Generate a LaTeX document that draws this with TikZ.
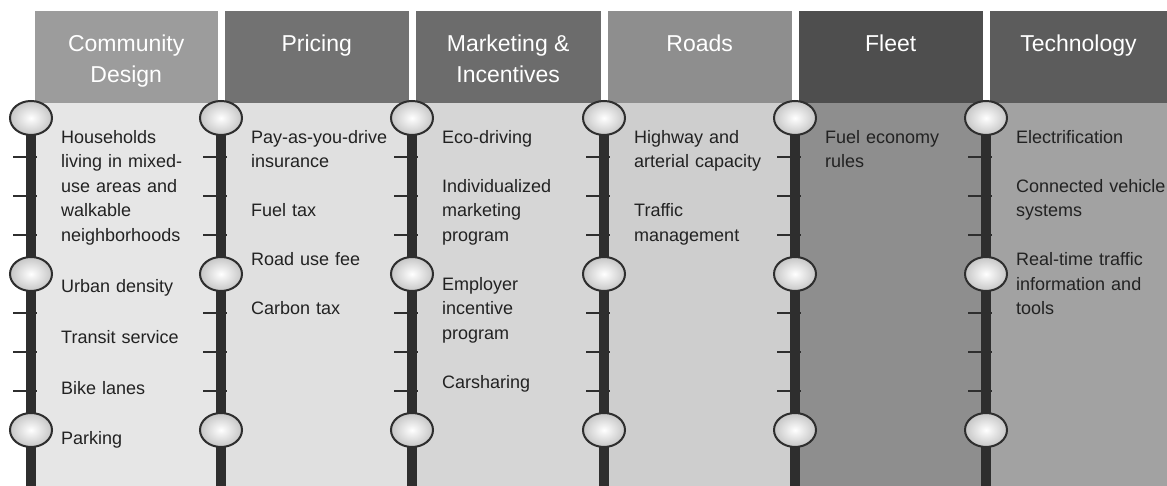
\documentclass[tikz,border=0pt]{standalone}
\usepackage{fontspec}
\setmainfont{Liberation Sans}
\usetikzlibrary{positioning, shapes.geometric}
\definecolor{tlBar}{HTML}{2E2E2E}
\definecolor{tlText}{HTML}{222222}
\definecolor{hdOne}{HTML}{9C9C9C}
\definecolor{hdTwo}{HTML}{727272}
\definecolor{hdThree}{HTML}{6C6C6C}
\definecolor{hdFour}{HTML}{8E8E8E}
\definecolor{hdFive}{HTML}{4E4E4E}
\definecolor{hdSix}{HTML}{5C5C5C}
\definecolor{bgOne}{HTML}{E6E6E6}
\definecolor{bgTwo}{HTML}{E0E0E0}
\definecolor{bgThree}{HTML}{D6D6D6}
\definecolor{bgFour}{HTML}{CECECE}
\definecolor{bgFive}{HTML}{8E8E8E}
\definecolor{bgSix}{HTML}{A2A2A2}

\begin{document}
\begin{tikzpicture}[x=1pt, y=1pt, node distance=24pt,
  hdr/.style={minimum height=92pt, inner sep=0pt, anchor=north west},
  hdrtext/.style={text=white, font=\fontsize{23}{31}\selectfont, align=center, inner sep=0pt},
  item/.style={text=tlText, font=\fontsize{18}{24.5}\selectfont, text width=150pt,
    align=left, inner sep=0pt, execute at begin node=\strut, execute at end node=\strut},
  knob/.style={ellipse, draw=tlBar, line width=2pt, minimum width=42pt,
    minimum height=34pt, inner color=white, outer color=gray!45},
  tick/.style={draw=tlBar, line width=2.5pt}]

\useasboundingbox (0,0) rectangle (1167,486);

\fill[bgOne] (31,0) rectangle (221,383);
\fill[bgTwo] (221,0) rectangle (412,383);
\fill[bgThree] (412,0) rectangle (604,383);
\fill[bgFour] (604,0) rectangle (795,383);
\fill[bgFive] (795,0) rectangle (986,383);
\fill[bgSix] (986,0) rectangle (1167,383);

\node[hdr, fill=hdOne, minimum width=183pt] (h1) at (34.5,475) {};
\node[hdr, fill=hdTwo, minimum width=184pt] (h2) at (224.5,475) {};
\node[hdr, fill=hdThree, minimum width=185pt] (h3) at (415.5,475) {};
\node[hdr, fill=hdFour, minimum width=184pt] (h4) at (607.5,475) {};
\node[hdr, fill=hdFive, minimum width=184pt] (h5) at (798.5,475) {};
\node[hdr, fill=hdSix, minimum width=177.5pt] (h6) at (989.5,475) {};

\node[hdrtext, below=24pt of h1.north] (h1t) {Community\\Design};
\node[hdrtext, below=24pt of h2.north] (h2t) {Pricing};
\node[hdrtext, below=24pt of h3.north] (h3t) {Marketing \&\\Incentives};
\node[hdrtext, below=24pt of h4.north] (h4t) {Roads};
\node[hdrtext, below=24pt of h5.north] (h5t) {Fleet};
\node[hdrtext, below=24pt of h6.north] (h6t) {Technology};

\foreach \bx [count=\i] in {31,221,412,604,795,986}{
  \coordinate (bt\i) at (\bx,383);
  \coordinate (bb\i) at (\bx,0);
  \draw[tlBar, line width=10pt] (bt\i) -- (bb\i);
  \foreach \ty in {329,290,251,173,134,95}
    \draw[tick] ({\bx-18},\ty) -- ({\bx+6},\ty);
  \node[knob] (k\i-1) at (\bx,368) {};
  \node[knob] (k\i-2) at (\bx,212) {};
  \node[knob] (k\i-3) at (\bx,56) {};
}

\node[item, anchor=north west] (cd1) at (61,360)
  {Households\\living in mixed-\\use areas and\\walkable\\neighborhoods};
\node[item, below=26pt of cd1] (cd2) {Urban density};
\node[item, below=26pt of cd2] (cd3) {Transit service};
\node[item, below=26pt of cd3] (cd4) {Bike lanes};
\node[item, below=26pt of cd4] (cd5) {Parking};

\node[item, anchor=north west] (pr1) at (251,360) {Pay-as-you-drive\\insurance};
\node[item, below=of pr1] (pr2) {Fuel tax};
\node[item, below=of pr2] (pr3) {Road use fee};
\node[item, below=of pr3] (pr4) {Carbon tax};

\node[item, anchor=north west] (mi1) at (442,360) {Eco-driving};
\node[item, below=of mi1] (mi2) {Individualized\\marketing\\program};
\node[item, below=of mi2] (mi3) {Employer\\incentive\\program};
\node[item, below=of mi3] (mi4) {Carsharing};

\node[item, anchor=north west] (rd1) at (634,360) {Highway and\\arterial capacity};
\node[item, below=of rd1] (rd2) {Traffic\\management};

\node[item, anchor=north west] (fl1) at (825,360) {Fuel economy\\rules};

\node[item, anchor=north west] (te1) at (1016,360) {Electrification};
\node[item, below=of te1] (te2) {Connected vehicle\\systems};
\node[item, below=of te2] (te3) {Real-time traffic\\information and\\tools};

\end{tikzpicture}
\end{document}
